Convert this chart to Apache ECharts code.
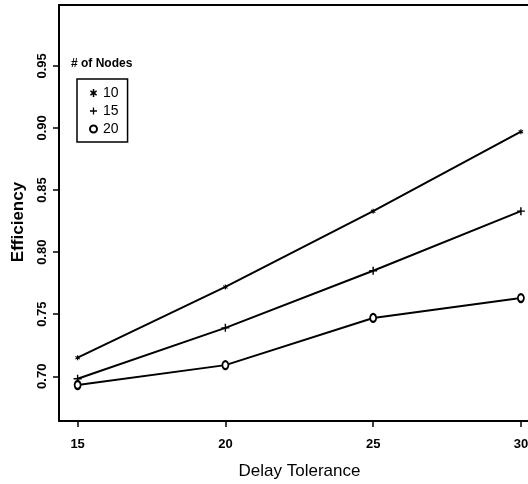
<!DOCTYPE html>
<html>
<head>
<meta charset="utf-8">
<script src="https://cdn.jsdelivr.net/npm/echarts@6/dist/echarts.min.js"></script>
<style>
  html, body { margin: 0; padding: 0; background: #fff; }
  #chart { width: 528px; height: 484px; }
</style>
</head>
<body>
<div id="chart"></div>
<script>
// delay tolerance on x, efficiency on y, one series per node count
var delays = [15, 20, 25, 30];
var nodes10 = [0.715, 0.772, 0.833, 0.897];
var nodes15 = [0.698, 0.739, 0.785, 0.833];
var nodes20 = [0.693, 0.709, 0.747, 0.763];
var xTicks = [15, 20, 25, 30];
var yTicks = [0.70, 0.75, 0.80, 0.85, 0.90, 0.95];

var starSym = 'path://M4,0H6V3L8.5,1.5L9.5,3L7,5L9.5,7L8.5,8.5L6,7V10H4V7L1.5,8.5L0.5,7L3,5L0.5,3L1.5,1.5L4,3Z';
var plusSym = 'path://M4.1,0H5.9V4.1H10V5.9H5.9V10H4.1V5.9H0V4.1H4.1Z';

function pairs(ys) {
    return delays.map(function (d, i) { return [d, ys[i]]; });
}

function line(name, ys, sym, w, h) {
    return {
        name: name,
        type: 'line',
        data: pairs(ys),
        symbol: sym,
        symbolSize: [w, h],
        showSymbol: true,
        lineStyle: {color: '#000', width: 2},
        itemStyle: {color: '#000', borderWidth: sym === 'emptyCircle' ? 1.5 : 0},
        emphasis: {disabled: true},
        animation: false
    };
}

var font = 'Liberation Sans, Arial, sans-serif';
var chart = echarts.init(document.getElementById('chart'));

chart.setOption({
    backgroundColor: '#fff',
    textStyle: {fontFamily: font},
    title: {
        text: '# of Nodes',
        left: 71,
        top: 58,
        padding: 0,
        textStyle: {fontSize: 12, fontWeight: 'bold', color: '#000', fontFamily: font}
    },
    legend: {
        orient: 'vertical',
        left: 77,
        top: 79,
        padding: [7, 9, 6, 12],
        itemGap: 4,
        itemWidth: 7,
        itemHeight: 8,
        borderColor: '#000',
        borderWidth: 1.5,
        textStyle: {fontSize: 14, color: '#000', fontFamily: font, padding: [0, 0, 0, 1]},
        data: [
            {name: '10', icon: starSym},
            {name: '15', icon: plusSym},
            {name: '20', icon: 'emptyCircle'}
        ]
    },
    grid: {
        left: 59,
        top: 5,
        right: 0,
        bottom: 63,
        outerBoundsMode: 'none',
        containLabel: false
    },
    xAxis: [{
        type: 'value',
        min: 14.37,
        max: 30.24,
        name: 'Delay Tolerance',
        nameLocation: 'middle',
        nameGap: 42,
        nameTextStyle: {fontSize: 17, color: '#000', fontFamily: font, padding: [0, 0, 0, 12]},
        axisLine: {lineStyle: {color: '#000', width: 2}},
        axisTick: {show: true, length: 6, lineStyle: {color: '#000', width: 1.5}, customValues: xTicks},
        axisLabel: {
            customValues: xTicks,
            margin: 17,
            fontSize: 13,
            fontWeight: 'bold',
            color: '#000'
        },
        splitLine: {show: false}
    }, {
        // top frame line of the plot box
        type: 'value',
        position: 'top',
        min: 14.37,
        max: 30.24,
        axisLine: {show: true, lineStyle: {color: '#000', width: 2}},
        axisTick: {show: false},
        axisLabel: {show: false},
        splitLine: {show: false}
    }],
    yAxis: {
        type: 'value',
        min: 0.664,
        max: 0.999,
        name: 'Efficiency',
        nameLocation: 'middle',
        nameGap: 32,
        nameTextStyle: {fontSize: 17, fontWeight: 'bold', color: '#000', fontFamily: font, padding: [0, 0, 0, -18]},
        axisLine: {lineStyle: {color: '#000', width: 2}},
        axisTick: {show: true, length: 6, lineStyle: {color: '#000', width: 1.5}, customValues: yTicks},
        axisLabel: {
            customValues: yTicks,
            rotate: 90,
            margin: 10,
            fontSize: 13,
            fontWeight: 'bold',
            color: '#000',
            formatter: function (v) { return v.toFixed(2); }
        },
        splitLine: {show: false}
    },
    series: [
        line('10', nodes10, starSym, 5, 5),
        line('15', nodes15, plusSym, 8, 8),
        line('20', nodes20, 'emptyCircle', 6, 8)
    ]
});
</script>
</body>
</html>
